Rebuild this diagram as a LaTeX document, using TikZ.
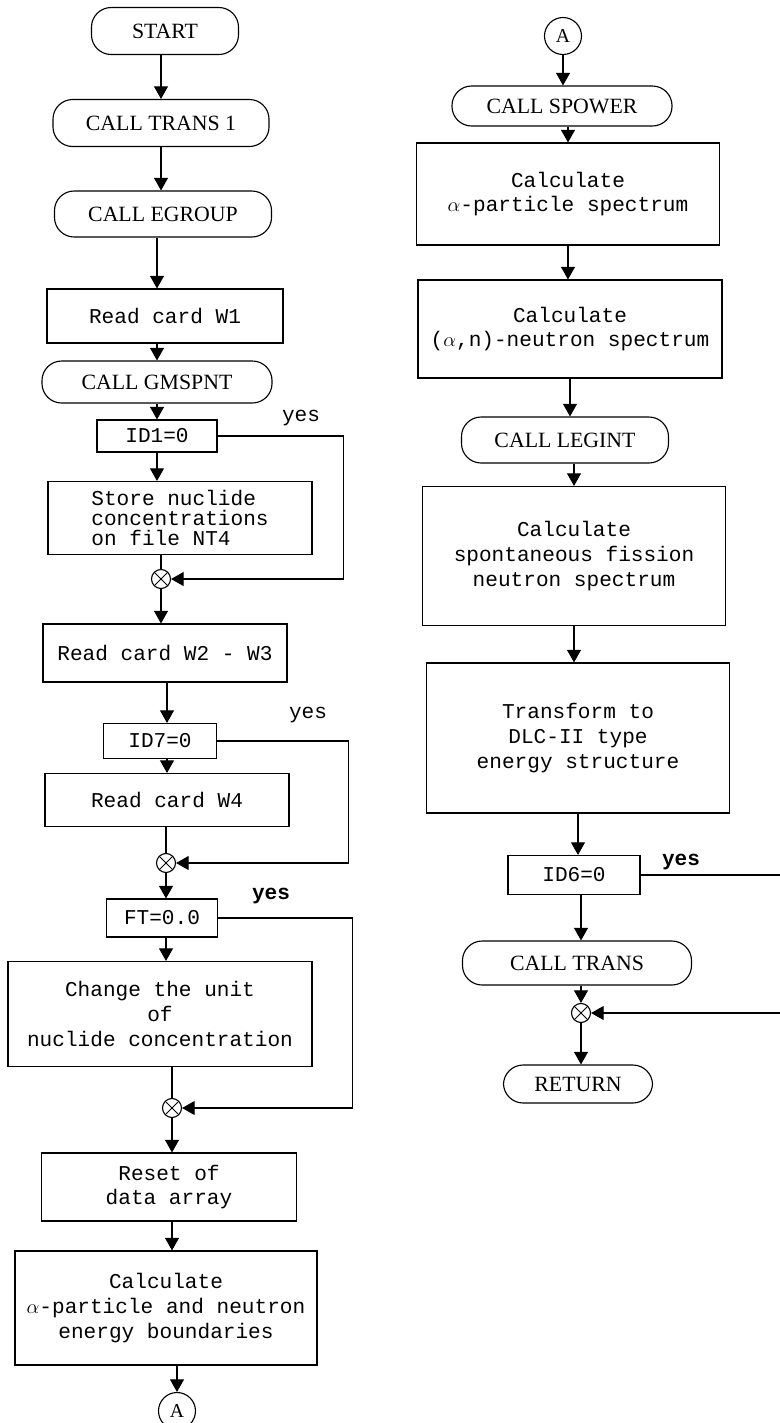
\documentclass[tikz,border=0pt]{standalone}
\usepackage{fontspec}
\setmainfont{Liberation Serif}
\setmonofont{Liberation Mono}
\usetikzlibrary{arrows.meta}

\begin{document}
\begin{tikzpicture}[x=0.025cm,y=-0.025cm,line width=0.8pt,
  term/.style={draw,rounded corners=14pt,inner sep=2pt,font=\fontsize{15.5}{17}\selectfont},
  box/.style={draw,inner sep=2pt,align=center,font=\fontsize{15}{17.5}\selectfont\ttfamily},
  merge/.style={circle,draw,minimum size=0.475cm,inner sep=0pt,
    path picture={\draw[line width=0.6pt] (path picture bounding box.north west) -- (path picture bounding box.south east)
      (path picture bounding box.south west) -- (path picture bounding box.north east);}},
  conn/.style={circle,draw,minimum size=0.925cm,inner sep=0pt,font=\fontsize{14}{16}\selectfont},
  yes/.style={font=\fontsize{15}{17}\selectfont\ttfamily},
  arr/.style={-{Triangle[width=10pt,length=9pt]}}]
\useasboundingbox (0,0) rectangle (780,1423);

\node[term,minimum width=3.675cm,minimum height=1.175cm] (start) at (165,31) {START};
\node[term,minimum width=5.4cm,minimum height=1.175cm] (trans1) at (161,123) {CALL TRANS 1};
\node[term,minimum width=5.425cm,minimum height=1.15cm] (egroup) at (163,214) {CALL EGROUP};
\node[box,minimum width=5.9cm,minimum height=1.35cm] (w1) at (165,316) {Read card W1};
\node[term,minimum width=5.75cm,minimum height=1.05cm] (gmspnt) at (157,382) {CALL GMSPNT};
\node[box,minimum width=3cm,minimum height=0.8cm] (id1) at (157,436) {ID1=0};
\node[box,minimum width=6.6cm,minimum height=1.825cm,align=left,font=\fontsize{15}{14.5}\selectfont\ttfamily] (store) at (180,518) {Store nuclide\\concentrations\\on file NT4};
\node[merge] (m1) at (161,579) {};
\node[box,minimum width=6.1cm,minimum height=1.45cm] (w23) at (165,653) {Read card W2 - W3};
\node[box,minimum width=2.825cm,minimum height=0.875cm] (id7) at (160,741) {ID7=0};
\node[box,minimum width=6.1cm,minimum height=1.325cm] (w4) at (167,800) {Read card W4};
\node[merge] (m2) at (166,863) {};
\node[box,minimum width=2.775cm,minimum height=0.95cm] (ft) at (162,918) {FT=0.0};
\node[box,minimum width=7.6cm,minimum height=2.625cm] (unit) at (160,1014) {Change the unit\\of\\nuclide concentration};
\node[merge] (m3) at (172,1108) {};
\node[box,minimum width=6.375cm,minimum height=1.7cm] (reset) at (169,1187) {Reset of\\data array};
\node[box,minimum width=7.55cm,minimum height=2.85cm] (bound) at (166,1308) {Calculate\\$\alpha$-particle and neutron\\energy boundaries};
\node[conn] (a1) at (177,1411) {A};

\node[yes] (yes1) at (301,418) {yes};
\node[yes] (yes2) at (308,715) {yes};
\node[yes,font=\fontsize{15}{17}\selectfont\ttfamily\bfseries] (yes3) at (271,896) {yes};

\draw[arr] (start.south -| trans1) -- (trans1.north);
\draw[arr] (trans1) -- (trans1 |- egroup.north);
\draw[arr] (egroup.south -| gmspnt) -- (gmspnt |- w1.north);
\draw[arr] (gmspnt |- w1.south) -- (gmspnt.north);
\draw[arr] (gmspnt) -- (id1.north);
\draw[arr] (id1) -- (id1 |- store.north);
\draw (m1 |- store.south) -- (m1);
\draw[arr] (m1) -- (m1 |- w23.north);
\draw[arr] (w23.south -| w4) -- (w4 |- id7.north);
\draw[arr] (id7.south -| w4) -- (w4.north);
\draw (m2 |- w4.south) -- (m2);
\draw[arr] (m2) -- (m2 |- ft.north);
\draw[arr] (m2 |- ft.south) -- (m2 |- unit.north);
\draw (m3 |- unit.south) -- (m3);
\draw[arr] (m3) -- (m3 |- reset.north);
\draw[arr] (m3 |- reset.south) -- (m3 |- bound.north);
\draw[arr] (a1 |- bound.south) -- (a1);

\draw[arr] (id1.east) -- ++(126,0) |- (m1);
\draw[arr] (id7.east) -- ++(131,0) |- (m2);
\draw[arr] (ft.east) -- ++(134,0) |- (m3);

\node[conn] (a2) at (563,36) {A};
\node[term,minimum width=5.5cm,minimum height=1cm] (spower) at (562,106) {CALL SPOWER};
\node[box,minimum width=7.575cm,minimum height=2.55cm] (alpha) at (568,194) {Calculate\\$\alpha$-particle spectrum};
\node[box,minimum width=7.6cm,minimum height=2.45cm] (alphan) at (570,329) {Calculate\\($\alpha$,n)-neutron spectrum};
\node[term,minimum width=5.175cm,minimum height=1.15cm] (legint) at (565,440) {CALL LEGINT};
\node[box,minimum width=7.575cm,minimum height=3.475cm] (fission) at (574,556) {Calculate\\spontaneous fission\\neutron spectrum};
\node[box,minimum width=7.575cm,minimum height=3.75cm] (dlc) at (578,738) {Transform to\\DLC-II type\\energy structure};
\node[box,minimum width=3.3cm,minimum height=0.975cm] (id6) at (574,875) {ID6=0};
\node[term,minimum width=5.725cm,minimum height=1.1cm] (trans) at (577,963) {CALL TRANS};
\node[merge] (m4) at (581,1013) {};
\node[term,minimum width=3.725cm,minimum height=0.95cm] (ret) at (578,1084) {RETURN};
\node[yes,font=\fontsize{15}{17}\selectfont\ttfamily\bfseries] (yes4) at (681,862) {yes};

\draw[arr] (a2) -- (a2 |- spower.north);
\draw[arr] (alpha |- spower.south) -- (alpha.north);
\draw[arr] (alpha) -- (alpha |- alphan.north);
\draw[arr] (alphan) -- (alphan |- legint.north);
\draw[arr] (legint.south -| fission) -- (fission.north);
\draw[arr] (fission) -- (fission |- dlc.north);
\draw[arr] (dlc) -- (dlc |- id6.north);
\draw[arr] (id6.south -| m4) -- (m4 |- trans.north);
\draw[arr] (m4 |- trans.south) -- (m4);
\draw[arr] (m4) -- (m4 |- ret.north);
\draw[arr] (id6.east) -- ++(150,0) |- (m4);
\end{tikzpicture}
\end{document}
